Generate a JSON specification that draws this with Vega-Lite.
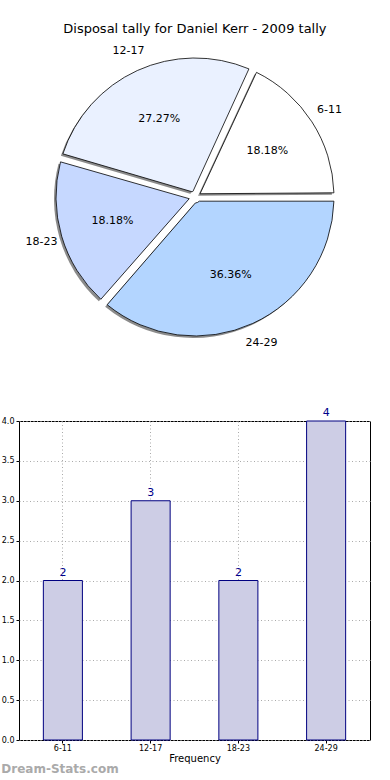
{
  "$schema": "https://vega.github.io/schema/vega-lite/v6.json",
  "padding": {"top": 23, "left": 0, "right": 0, "bottom": 0},
  "title": {"text": "Disposal tally for Daniel Kerr - 2009 tally", "font": "DejaVu Sans", "fontSize": 13, "fontWeight": "normal", "color": "black", "anchor": "middle", "offset": 8, "dx": 9},
  "datasets": {
    "tally": [
      {"range": "6-11", "count": 2, "pct": "18.18%"},
      {"range": "12-17", "count": 3, "pct": "27.27%"},
      {"range": "18-23", "count": 2, "pct": "18.18%"},
      {"range": "24-29", "count": 4, "pct": "36.36%"}
    ]
  },
  "config": {"font": "DejaVu Sans"},
  "spacing": 56,
  "vconcat": [
    {
      "width": 352,
      "height": 306,
      "view": {"stroke": null},
      "data": {"name": "tally"},
      "encoding": {
        "theta": {"field": "count", "type": "quantitative", "stack": true, "scale": {"range": [0.4284, 6.7116]}},
        "order": {"field": "range", "sort": "descending"}
      },
      "layer": [
        {
          "mark": {"type": "arc", "outerRadius": 139, "innerRadius": 6, "padAngle": 0.06, "fill": "#777777", "xOffset": -2, "yOffset": 2, "opacity": 0.85}
        },
        {
          "mark": {"type": "arc", "outerRadius": 139, "innerRadius": 6, "padAngle": 0.06, "stroke": "black", "strokeWidth": 0.8},
          "encoding": {
            "color": {"field": "range", "type": "nominal", "legend": null,
              "scale": {"domain": ["6-11", "12-17", "18-23", "24-29"], "range": ["#ffffff", "#eaf1ff", "#c6d8ff", "#b3d5ff"]}}
          }
        },
        {
          "mark": {"type": "text", "radius": 86, "fontSize": 11, "color": "black"},
          "encoding": {"text": {"field": "pct", "type": "nominal"}}
        },
        {
          "mark": {"type": "text", "radius": 160, "fontSize": 11, "color": "black"},
          "encoding": {"text": {"field": "range", "type": "nominal"}}
        }
      ]
    },
    {
      "width": 351,
      "height": 319,
      "view": {"stroke": "black", "strokeWidth": 1},
      "data": {"name": "tally"},
      "title": {"text": "Dream-Stats.com", "orient": "bottom", "anchor": "start", "frame": "bounds", "fontSize": 12, "fontWeight": "bold", "color": "#aaaaaa", "offset": 1},
      "encoding": {
        "x": {"field": "range", "type": "nominal", "sort": ["6-11", "12-17", "18-23", "24-29"],
          "scale": {"paddingInner": 0.555, "paddingOuter": 0.2775},
          "axis": {"title": "Frequency", "titleFontSize": 10, "titleFontWeight": "normal", "titlePadding": 1, "labelAngle": 0, "labelFontSize": 8, "labelPadding": 1, "tickSize": 3, "domain": false, "grid": true, "gridDash": [1, 2.5], "gridColor": "#aaaaaa", "bandPosition": 0.5, "tickColor": "black", "labelColor": "black", "titleColor": "black"}},
        "y": {"field": "count", "type": "quantitative", "scale": {"domain": [0, 4], "nice": false},
          "axis": {"title": null, "values": [0, 0.5, 1, 1.5, 2, 2.5, 3, 3.5, 4], "format": ".1f", "labelFontSize": 8, "labelPadding": 2, "tickSize": 3, "domain": false, "grid": true, "gridDash": [1, 2.5], "gridColor": "#aaaaaa", "tickColor": "black", "labelColor": "black"}}
      },
      "layer": [
        {"mark": {"type": "bar", "fill": "#cdcde5", "stroke": "#000080", "strokeWidth": 1}},
        {"mark": {"type": "text", "baseline": "bottom", "dy": -3, "fontSize": 11, "color": "#00008b"},
          "encoding": {"text": {"field": "count", "type": "quantitative"}}}
      ]
    }
  ]
}
